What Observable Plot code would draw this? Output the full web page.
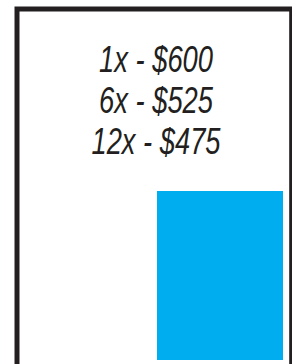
<!DOCTYPE html>
<html>
<head>
<meta charset="utf-8">
<script src="https://cdn.jsdelivr.net/npm/d3@7"></script>
<script src="https://cdn.jsdelivr.net/npm/@observablehq/plot@0.6"></script>
<style>
  html, body { margin: 0; padding: 0; background: #fff; overflow: hidden; }
  #chart svg { display: block; }
</style>
</head>
<body>
<div id="chart"></div>
<script>
// Pricing tiers (text lines)
const tiers = ["1x", "6x", "12x"];
const prices = [600, 525, 475];
// Single bar
const barCategories = ["Price"];
const barValues = [600];

const tierLines = tiers.map((t, i) => `${t} - $${prices[i]}`);
const bars = barCategories.map((c, i) => ({category: c, value: barValues[i]}));

const chart = Plot.plot({
  width: 292,
  height: 364,
  marginLeft: 19,
  marginRight: 0,
  marginTop: 11,
  marginBottom: 0,
  style: {background: "#fff", overflow: "hidden"},
  x: {type: "band", domain: barCategories, range: [157, 283], padding: 0, axis: null},
  y: {domain: [0, 600], range: [360, 191], axis: null},
  marks: [
    Plot.frame({stroke: "#231f20", strokeWidth: 5, insetLeft: -2.5, insetTop: -2.5, insetRight: 0.8, insetBottom: -10}),
    Plot.barY(bars, {x: "category", y: "value", fill: "#00aeef"}),
    Plot.text([tierLines.join("\n")], {
      frameAnchor: "top",
      lineAnchor: "top",
      dy: 31,
      fontSize: 36,
      fontStyle: "italic",
      fontFamily: "'Liberation Sans', Arial, sans-serif",
      fill: "#231f20",
      lineHeight: 1.145
    })
  ]
});
document.getElementById("chart").append(chart);
// Condense the italic lines to the narrow widths of the original type
const lineWidths = [114, 114, 129];
chart.querySelectorAll("text tspan").forEach((ts, i) => {
  if (lineWidths[i] != null) {
    ts.setAttribute("textLength", lineWidths[i]);
    ts.setAttribute("lengthAdjust", "spacingAndGlyphs");
  }
});
</script>
</body>
</html>
